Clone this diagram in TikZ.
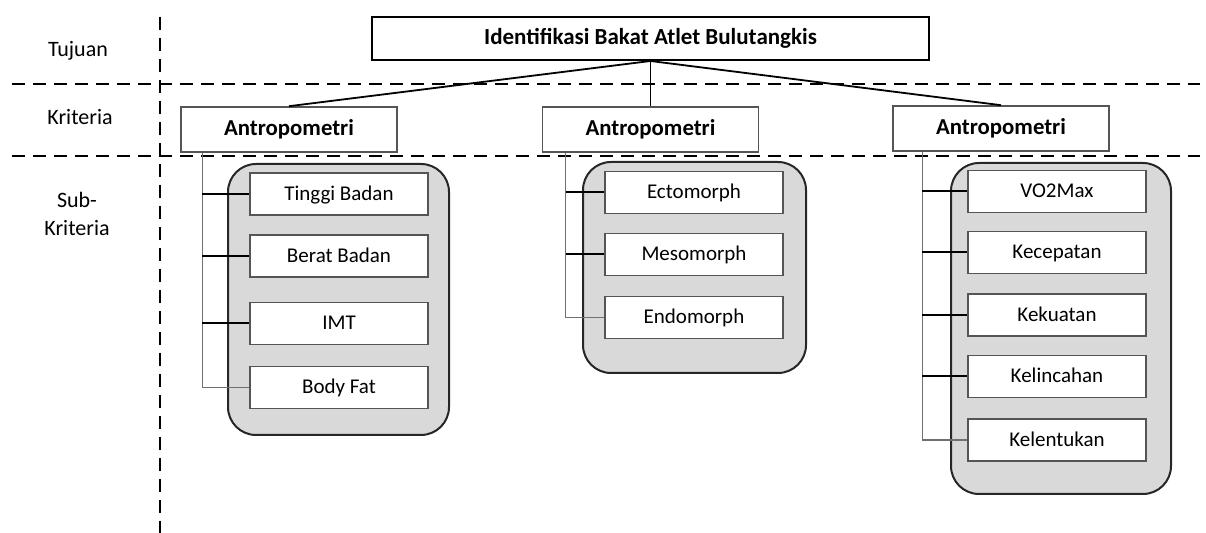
\documentclass[tikz,border=0pt]{standalone}
\usepackage{fontspec}
\setmainfont{Carlito}
\usetikzlibrary{calc}
\definecolor{grpfill}{HTML}{D9D9D9}
\definecolor{boxline}{HTML}{555555}
\definecolor{treeline}{HTML}{707070}
\tikzset{
  sep/.style={line width=1.3pt, dash pattern=on 6.5pt off 4pt},
  lbl/.style={font=\fontsize{11}{13}\selectfont, align=center},
  capc/.style={text height=0.644em, text depth=0pt},
  titlebox/.style={capc, draw=black, line width=1pt, fill=white, minimum width=278.5pt, minimum height=21.5pt, inner sep=0pt, font=\bfseries\fontsize{11.5}{13}\selectfont},
  critbox/.style={capc, draw=boxline, line width=0.8pt, fill=white, minimum width=108pt, minimum height=22.5pt, inner sep=0pt, font=\bfseries\fontsize{11.4}{13}\selectfont},
  subbox/.style={capc, draw=boxline, line width=0.8pt, fill=white, minimum width=89pt, minimum height=21pt, inner sep=0pt, font=\fontsize{10.5}{12}\selectfont},
  grp/.style={draw=black!85, line width=1pt, fill=grpfill, rounded corners=14pt},
  link/.style={draw=black, line width=0.9pt},
  tree/.style={draw=treeline, line width=0.65pt},
  branch/.style={draw=black, line width=1pt}
}
\begin{document}
\begin{tikzpicture}[x=0.5pt, y=-0.5pt]
\useasboundingbox (0,0) rectangle (1206,533);
% separators
\draw[sep] (12,84) -- (1200,84);
\draw[sep] (12,156) -- (1200,156);
\draw[sep] (160,17) -- (160,533);
% row labels
\node[lbl] (tujuan) at (78,51) {Tujuan};
\node[lbl] (krit) at (80,117) {Kriteria};
\node[lbl] (subkrit) at (77,214) {Sub-\\[1pt]Kriteria};
% group backgrounds
\draw[grp] (228,164) rectangle (449,435);
\draw[grp] (583,162) rectangle (806,373);
\draw[grp] (951,163) rectangle (1171,494);
% title and criteria
\node[titlebox] (title) at (650.5,38.5) {Identifikasi Bakat Atlet Bulutangkis};
\node[critbox] (ca) at (289,129.5) {Antropometri};
\node[critbox] (cb) at (650.5,129.5) {Antropometri};
\node[critbox] (cc) at (1001,128.5) {Antropometri};
\draw[link] (title.south) -- (ca.north);
\draw[link] (title.south) -- (cb.north);
\draw[link] (title.south) -- (cc.north);
% left group
\node[subbox] (a1) at (339,194) {Tinggi Badan};
\node[subbox] (a2) at (339,256) {Berat Badan};
\node[subbox] (a3) at (339,323.5) {IMT};
\node[subbox] (a4) at (339,387.5) {Body Fat};
% middle group
\node[subbox] (b1) at (694,192.5) {Ectomorph};
\node[subbox] (b2) at (694,254.5) {Mesomorph};
\node[subbox] (b3) at (694,317.5) {Endomorph};
% right group
\node[subbox] (c1) at (1057,191.5) {VO2Max};
\node[subbox] (c2) at (1057,252.5) {Kecepatan};
\node[subbox] (c3) at (1057,315) {Kekuatan};
\node[subbox] (c4) at (1057,376.5) {Kelincahan};
\node[subbox] (c5) at (1057,440) {Kelentukan};
% tree lines
\coordinate (ta) at ($(ca.south west)+(22,0)$);
\coordinate (tb) at ($(cb.south west)+(24,0)$);
\coordinate (tc) at ($(cc.south west)+(30,0)$);
\draw[tree] (ta) |- (a4.west);
\draw[tree] (tb) |- (b3.west);
\draw[tree] (tc) |- (c5.west);
\foreach \n in {a1,a2,a3} \draw[branch] (ta |- \n.west) -- (\n.west);
\foreach \n in {b1,b2} \draw[branch] (tb |- \n.west) -- (\n.west);
\foreach \n in {c1,c2,c3,c4} \draw[branch] (tc |- \n.west) -- (\n.west);
\end{tikzpicture}
\end{document}
